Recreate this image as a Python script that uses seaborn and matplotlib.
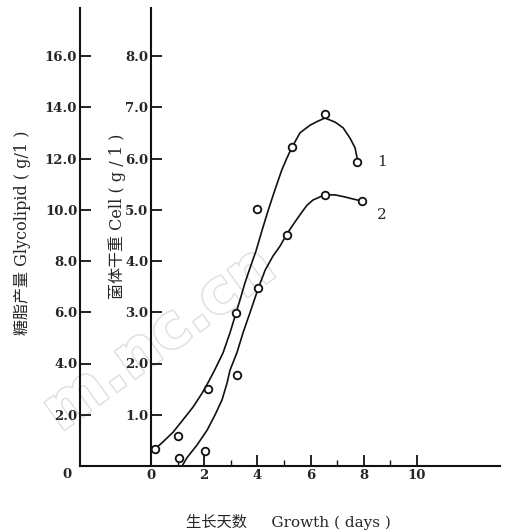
import matplotlib
matplotlib.use("Agg")
import matplotlib.pyplot as plt
import matplotlib.patheffects as pe
import pandas as pd
import seaborn as sns

# measured points (day, value on the inner "Cell" scale)
pts1_day = [0.15, 1.02, 2.14, 3.20, 3.98, 5.30, 6.54, 7.74]
pts1_val = [0.33, 0.59, 1.50, 2.99, 5.01, 6.22, 6.87, 5.93]
pts2_day = [1.05, 2.03, 3.23, 4.02, 5.11, 6.54, 7.93]
pts2_val = [0.16, 0.29, 1.78, 3.47, 4.51, 5.29, 5.17]

# hand drawn smooth curves
curve1_day = [0.15, 0.45, 0.83, 1.20, 1.58, 1.92, 2.18, 2.41, 2.71, 2.97,
              3.20, 3.38, 3.53, 3.72, 3.95, 4.17, 4.40, 4.66, 4.92, 5.11,
              5.30, 5.60, 5.98, 6.28, 6.54, 6.92, 7.22, 7.48, 7.67, 7.78]
curve1_val = [0.33, 0.47, 0.66, 0.90, 1.15, 1.42, 1.66, 1.89, 2.21, 2.60,
              2.99, 3.30, 3.57, 3.86, 4.20, 4.59, 4.98, 5.39, 5.78, 6.01,
              6.22, 6.50, 6.65, 6.73, 6.79, 6.71, 6.60, 6.40, 6.21, 5.93]
curve2_day = [1.17, 1.35, 1.73, 2.11, 2.41, 2.67, 2.86, 2.97, 3.23, 3.46,
              3.72, 4.02, 4.29, 4.59, 4.85, 5.11, 5.41, 5.68, 5.87, 6.09,
              6.35, 6.54, 6.92, 7.29, 7.59, 7.93]
curve2_val = [0.00, 0.16, 0.41, 0.70, 1.00, 1.29, 1.62, 1.87, 2.21, 2.60,
              2.99, 3.45, 3.82, 4.10, 4.29, 4.53, 4.76, 4.96, 5.09, 5.19,
              5.25, 5.29, 5.29, 5.25, 5.21, 5.17]

x_major = [0, 2, 4, 6, 8, 10]
x_minor = [1, 3, 5, 7, 9]
cell_ticks = [1, 2, 3, 4, 5, 6, 7, 8]
cell_labels = ["1.0", "2.0", "3.0", "4.0", "5.0", "6.0", "7.0", "8.0"]
glyco_labels = ["2.0", "4.0", "6.0", "8.0", "10.0", "12.0", "14.0", "16.0"]

sns.set_theme(style="ticks")
plt.rcParams["font.family"] = ["DejaVu Serif", "Noto Sans CJK SC"]
cjk = ["DejaVu Serif", "Noto Sans CJK SC"]

W, H = 506, 532
fig = plt.figure(figsize=(W / 100, H / 100), dpi=100)
fig.patch.set_facecolor("white")

# faint watermark of the scan
fig.text(160 / W, 1 - 340 / H, "m.nc.cn", rotation=36, fontsize=44,
         fontweight="bold", family="DejaVu Sans", color="white",
         ha="center", va="center", zorder=-5,
         path_effects=[pe.withStroke(linewidth=2.2, foreground="#e0e0e0")])

ax = fig.add_axes([80 / W, (H - 466) / H, 420 / W, 458 / H])
ax.patch.set_alpha(0)
ax.set_xlim(-71 / 26.6, 349 / 26.6)
ax.set_ylim(0, 458 / 51.25)

c1 = pd.DataFrame({"day": curve1_day, "val": curve1_val})
c2 = pd.DataFrame({"day": curve2_day, "val": curve2_val})
p1 = pd.DataFrame({"day": pts1_day, "val": pts1_val})
p2 = pd.DataFrame({"day": pts2_day, "val": pts2_val})

for c in (c1, c2):
    sns.lineplot(data=c, x="day", y="val", ax=ax, color="#111111", lw=1.2,
                 sort=False, estimator=None)
for p in (p1, p2):
    sns.scatterplot(data=p, x="day", y="val", ax=ax, s=30, marker="o",
                    facecolor="white", edgecolor="#111111", linewidth=1.3,
                    zorder=5)

ax.text(8.68, 5.93, "1", fontsize=11, ha="center", va="center")
ax.text(8.68, 4.90, "2", fontsize=11, ha="center", va="center")

sns.despine(ax=ax)
for s in ("left", "bottom"):
    ax.spines[s].set_linewidth(1.5)
    ax.spines[s].set_color("#111111")

ax.set_xticks(x_major)
ax.set_xticks(x_minor, minor=True)
ax.set_xticklabels([str(v) for v in x_major], fontsize=9.5, fontweight="bold")
ax.set_yticks(cell_ticks)
ax.set_yticklabels(glyco_labels, fontsize=9.5, fontweight="bold")
ax.tick_params(axis="both", which="major", direction="in", length=8,
               width=1.3, color="#111111", pad=2)
ax.tick_params(axis="x", which="minor", direction="in", length=4,
               width=1.0, color="#111111")
ax.set_xlabel("")
ax.set_ylabel("")

# inner axis for cell weight, placed at day 0
sec = ax.secondary_yaxis(71 / 420)
sec.spines["left"].set_linewidth(1.5)
sec.spines["left"].set_color("#111111")
sec.set_yticks(cell_ticks)
sec.set_yticklabels(cell_labels, fontsize=9.5, fontweight="bold")
sec.tick_params(direction="in", length=8, width=1.3, color="#111111", pad=2)

fig.text(67 / W, 1 - 474 / H, "0", fontsize=9.5, fontweight="bold",
         ha="center", va="center")

fig.text(22 / W, 1 - 233 / H, "糖脂产量 Glycolipid ( g/1 )", rotation=90,
         fontsize=11.5, family=cjk, ha="center", va="center")
fig.text(117 / W, 1 - 216 / H, "菌体干重 Cell ( g / 1 )", rotation=90,
         fontsize=11.5, family=cjk, ha="center", va="center")
fig.text(288 / W, 1 - 522 / H, "生长天数     Growth ( days )", fontsize=11,
         family=cjk, ha="center", va="center")

fig.savefig("out.png", dpi=100, facecolor="white")
